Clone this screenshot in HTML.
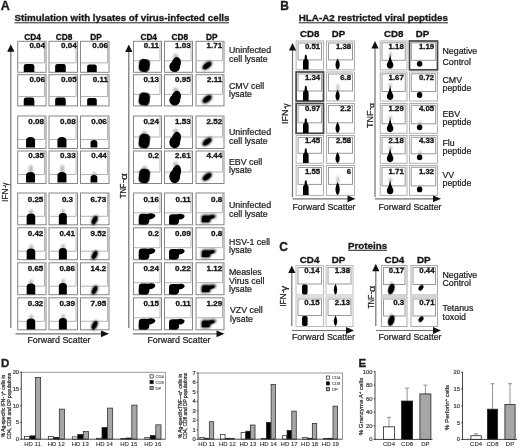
<!DOCTYPE html>
<html><head><meta charset="utf-8"><title>Figure</title>
<style>
html,body{margin:0;padding:0;background:#fff;}
body{width:520px;height:448px;overflow:hidden;}
svg{display:block;font-family:"Liberation Sans", Arial, sans-serif;}
text{stroke:#222;stroke-width:0.22px;paint-order:stroke;}
text[font-weight=bold]{stroke-width:0.32px;stroke:#111;}
text.s{stroke-width:0.08px;}
</style></head><body>
<svg width="520" height="448" viewBox="0 0 520 448">
<defs>
<filter id="b1" x="-30%" y="-30%" width="160%" height="160%"><feGaussianBlur stdDeviation="0.45"/></filter>
<filter id="b2" x="-50%" y="-50%" width="200%" height="200%"><feGaussianBlur stdDeviation="0.9"/></filter>
</defs>
<rect x="0" y="0" width="520" height="448" fill="#fff"/>
<text x="0.8" y="10.3" font-size="12.5" font-weight="bold" text-anchor="start" fill="#1a1a1a" >A</text>
<text x="14.5" y="20.5" font-size="9.8" font-weight="bold" text-anchor="start" fill="#1a1a1a" id="tA">Stimulation with lysates of virus-infected cells</text>
<line x1="14.5" y1="22.8" x2="229" y2="22.8" stroke="#222" stroke-width="1"/>
<text x="32.5" y="40" font-size="8.3" font-weight="bold" text-anchor="middle" fill="#111" >CD4</text>
<text x="64" y="40" font-size="8.3" font-weight="bold" text-anchor="middle" fill="#111" >CD8</text>
<text x="96" y="40" font-size="8.3" font-weight="bold" text-anchor="middle" fill="#111" >DP</text>
<text x="148.7" y="40" font-size="8.3" font-weight="bold" text-anchor="middle" fill="#111" >CD4</text>
<text x="179.8" y="40" font-size="8.3" font-weight="bold" text-anchor="middle" fill="#111" >CD8</text>
<text x="211.8" y="40" font-size="8.3" font-weight="bold" text-anchor="middle" fill="#111" >DP</text>
<rect x="17.7" y="41.3" width="28.3" height="31.0" fill="#fff" stroke="#868686" stroke-width="1" />
<path d="M18.2,62.9 L44.5,62.9 L44.5,41.8" fill="none" stroke="#b4b4b4" stroke-width="1"/>
<text x="45.0" y="48.3" font-size="8.0" font-weight="bold" text-anchor="end" fill="#111" >0.04</text>
<path d="M23.75,72.0 L23.75,66.332 Q23.75,64.0 26.082,64.0 L32.018,64.0 Q34.35,64.0 34.35,66.332 L34.35,72.0 Z" fill="#000" opacity="1.0" filter="url(#b1)"/>
<rect x="49.0" y="41.3" width="28.5" height="31.0" fill="#fff" stroke="#868686" stroke-width="1" />
<path d="M49.5,62.9 L76.0,62.9 L76.0,41.8" fill="none" stroke="#b4b4b4" stroke-width="1"/>
<text x="76.7" y="48.3" font-size="8.0" font-weight="bold" text-anchor="end" fill="#111" >0.04</text>
<path d="M55.15,72.0 L55.15,66.332 Q55.15,64.0 57.482,64.0 L63.418,64.0 Q65.75,64.0 65.75,66.332 L65.75,72.0 Z" fill="#000" opacity="1.0" filter="url(#b1)"/>
<rect x="80.5" y="41.3" width="28.5" height="31.0" fill="#fff" stroke="#868686" stroke-width="1" />
<path d="M81,62.9 L107.5,62.9 L107.5,41.8" fill="none" stroke="#b4b4b4" stroke-width="1"/>
<text x="107.9" y="48.3" font-size="8.0" font-weight="bold" text-anchor="end" fill="#111" >0.06</text>
<path d="M87.15,72.0 L87.15,66.512 Q87.15,64.4 89.262,64.4 L94.638,64.4 Q96.75,64.4 96.75,66.512 L96.75,72.0 Z" fill="#000" opacity="1.0" filter="url(#b1)"/>
<rect x="133.5" y="41.3" width="28" height="31.0" fill="#fff" stroke="#868686" stroke-width="1" />
<path d="M134,60.8 L160.0,60.8 L160.0,41.8" fill="none" stroke="#b4b4b4" stroke-width="1"/>
<text x="159" y="48.3" font-size="8.0" font-weight="bold" text-anchor="end" fill="#111" >0.11</text>
<rect x="138.8" y="59.0" width="11" height="13" rx="4.18" ry="4.18" transform="rotate(7 144.3 65.5)" fill="#000" opacity="1.0" filter="url(#b1)"/>
<rect x="164.5" y="41.3" width="28" height="31.0" fill="#fff" stroke="#868686" stroke-width="1" />
<path d="M165,60.8 L191.0,60.8 L191.0,41.8" fill="none" stroke="#b4b4b4" stroke-width="1"/>
<text x="190.7" y="48.3" font-size="8.0" font-weight="bold" text-anchor="end" fill="#111" >1.03</text>
<ellipse cx="175.60000000000002" cy="56.5" rx="2.53" ry="2.5" fill="#777" opacity="0.55" filter="url(#b2)"/>
<g filter="url(#b1)" opacity="1.0"><ellipse cx="174.72500000000002" cy="66.6" rx="5.404999999999999" ry="5.3999999999999995" fill="#000"/><ellipse cx="176.22" cy="63.6" rx="4.6000000000000005" ry="6.6" transform="rotate(14 176.22 63.6)" fill="#000"/></g>
<rect x="196.0" y="41.3" width="28.0" height="31.0" fill="#fff" stroke="#868686" stroke-width="1" />
<path d="M196.5,60.8 L222.5,60.8 L222.5,41.8" fill="none" stroke="#b4b4b4" stroke-width="1"/>
<text x="222.2" y="48.3" font-size="8.0" font-weight="bold" text-anchor="end" fill="#111" >1.71</text>
<g transform="rotate(-38 207.1 65.5)"><ellipse cx="207.1" cy="65.5" rx="6.0" ry="3.3" fill="#222" opacity="0.85" filter="url(#b2)"/><ellipse cx="207.1" cy="65.5" rx="4.800000000000001" ry="2.508" fill="#000" filter="url(#b1)"/></g>
<rect x="17.7" y="74.7" width="28.3" height="31.200000000000003" fill="#fff" stroke="#868686" stroke-width="1" />
<path d="M18.2,96.5 L44.5,96.5 L44.5,75.2" fill="none" stroke="#b4b4b4" stroke-width="1"/>
<text x="45.0" y="81.7" font-size="8.0" font-weight="bold" text-anchor="end" fill="#111" >0.06</text>
<path d="M23.75,105.60000000000001 L23.75,99.932 Q23.75,97.60000000000001 26.082,97.60000000000001 L32.018,97.60000000000001 Q34.35,97.60000000000001 34.35,99.932 L34.35,105.60000000000001 Z" fill="#000" opacity="1.0" filter="url(#b1)"/>
<rect x="49.0" y="74.7" width="28.5" height="31.200000000000003" fill="#fff" stroke="#868686" stroke-width="1" />
<path d="M49.5,96.5 L76.0,96.5 L76.0,75.2" fill="none" stroke="#b4b4b4" stroke-width="1"/>
<text x="76.7" y="81.7" font-size="8.0" font-weight="bold" text-anchor="end" fill="#111" >0.05</text>
<path d="M55.15,105.60000000000001 L55.15,99.932 Q55.15,97.60000000000001 57.482,97.60000000000001 L63.418,97.60000000000001 Q65.75,97.60000000000001 65.75,99.932 L65.75,105.60000000000001 Z" fill="#000" opacity="1.0" filter="url(#b1)"/>
<rect x="80.5" y="74.7" width="28.5" height="31.200000000000003" fill="#fff" stroke="#868686" stroke-width="1" />
<path d="M81,96.5 L107.5,96.5 L107.5,75.2" fill="none" stroke="#b4b4b4" stroke-width="1"/>
<text x="107.9" y="81.7" font-size="8.0" font-weight="bold" text-anchor="end" fill="#111" >0.11</text>
<path d="M87.15,105.60000000000001 L87.15,100.11200000000001 Q87.15,98.00000000000001 89.262,98.00000000000001 L94.638,98.00000000000001 Q96.75,98.00000000000001 96.75,100.11200000000001 L96.75,105.60000000000001 Z" fill="#000" opacity="1.0" filter="url(#b1)"/>
<rect x="133.5" y="74.7" width="28" height="31.200000000000003" fill="#fff" stroke="#868686" stroke-width="1" />
<path d="M134,94.4 L160.0,94.4 L160.0,75.2" fill="none" stroke="#b4b4b4" stroke-width="1"/>
<text x="159" y="81.7" font-size="8.0" font-weight="bold" text-anchor="end" fill="#111" >0.13</text>
<rect x="138.8" y="92.60000000000001" width="11" height="13" rx="4.18" ry="4.18" transform="rotate(7 144.3 99.10000000000001)" fill="#000" opacity="1.0" filter="url(#b1)"/>
<rect x="164.5" y="74.7" width="28" height="31.200000000000003" fill="#fff" stroke="#868686" stroke-width="1" />
<path d="M165,94.4 L191.0,94.4 L191.0,75.2" fill="none" stroke="#b4b4b4" stroke-width="1"/>
<text x="190.7" y="81.7" font-size="8.0" font-weight="bold" text-anchor="end" fill="#111" >0.95</text>
<ellipse cx="175.60000000000002" cy="90.10000000000001" rx="2.53" ry="2.5" fill="#777" opacity="0.55" filter="url(#b2)"/>
<g filter="url(#b1)" opacity="1.0"><ellipse cx="174.72500000000002" cy="100.2" rx="5.404999999999999" ry="5.3999999999999995" fill="#000"/><ellipse cx="176.22" cy="97.2" rx="4.6000000000000005" ry="6.6" transform="rotate(14 176.22 97.2)" fill="#000"/></g>
<rect x="196.0" y="74.7" width="28.0" height="31.200000000000003" fill="#fff" stroke="#868686" stroke-width="1" />
<path d="M196.5,94.4 L222.5,94.4 L222.5,75.2" fill="none" stroke="#b4b4b4" stroke-width="1"/>
<text x="222.2" y="81.7" font-size="8.0" font-weight="bold" text-anchor="end" fill="#111" >2.11</text>
<g transform="rotate(-38 207.1 99.10000000000001)"><ellipse cx="207.1" cy="99.10000000000001" rx="6.0" ry="3.3" fill="#222" opacity="0.85" filter="url(#b2)"/><ellipse cx="207.1" cy="99.10000000000001" rx="4.800000000000001" ry="2.508" fill="#000" filter="url(#b1)"/></g>
<rect x="17.7" y="116.0" width="28.3" height="32.5" fill="#fff" stroke="#868686" stroke-width="1" />
<path d="M18.2,139.5 L44.5,139.5 L44.5,116.5" fill="none" stroke="#b4b4b4" stroke-width="1"/>
<text x="43.9" y="123.5" font-size="8.0" font-weight="bold" text-anchor="end" fill="#111" >0.08</text>
<path d="M26.05,147.5 L26.05,140.6 Q26.05,137.0 30.55,137.0 Q35.05,137.0 35.05,140.6 L35.05,147.5 Z" fill="#000" opacity="1.0" filter="url(#b1)"/>
<rect x="49.0" y="116.0" width="28.5" height="32.5" fill="#fff" stroke="#868686" stroke-width="1" />
<path d="M49.5,139.5 L76.0,139.5 L76.0,116.5" fill="none" stroke="#b4b4b4" stroke-width="1"/>
<text x="75.6" y="123.5" font-size="8.0" font-weight="bold" text-anchor="end" fill="#111" >0.08</text>
<path d="M57.449999999999996,147.5 L57.449999999999996,140.6 Q57.449999999999996,137.0 61.949999999999996,137.0 Q66.44999999999999,137.0 66.44999999999999,140.6 L66.44999999999999,147.5 Z" fill="#000" opacity="1.0" filter="url(#b1)"/>
<rect x="80.5" y="116.0" width="28.5" height="32.5" fill="#fff" stroke="#868686" stroke-width="1" />
<path d="M81,139.5 L107.5,139.5 L107.5,116.5" fill="none" stroke="#b4b4b4" stroke-width="1"/>
<text x="106.8" y="123.5" font-size="8.0" font-weight="bold" text-anchor="end" fill="#111" >0.06</text>
<path d="M90.55,147.5 L90.55,142.72 Q90.55,140.0 93.95,140.0 Q97.35000000000001,140.0 97.35000000000001,142.72 L97.35000000000001,147.5 Z" fill="#000" opacity="1.0" filter="url(#b1)"/>
<rect x="133.5" y="116.0" width="28" height="32.5" fill="#fff" stroke="#868686" stroke-width="1" />
<path d="M134,137.0 L160.0,137.0 L160.0,116.5" fill="none" stroke="#b4b4b4" stroke-width="1"/>
<text x="159" y="123.5" font-size="8.0" font-weight="bold" text-anchor="end" fill="#111" >0.24</text>
<ellipse cx="144.60000000000002" cy="133.2" rx="2.42" ry="2.5" fill="#777" opacity="0.55" filter="url(#b2)"/>
<rect x="138.8" y="133.7" width="11" height="14.5" rx="4.18" ry="4.18" transform="rotate(7 144.3 140.95)" fill="#000" opacity="1.0" filter="url(#b1)"/>
<rect x="164.5" y="116.0" width="28" height="32.5" fill="#fff" stroke="#868686" stroke-width="1" />
<path d="M165,137.0 L191.0,137.0 L191.0,116.5" fill="none" stroke="#b4b4b4" stroke-width="1"/>
<text x="190.7" y="123.5" font-size="8.0" font-weight="bold" text-anchor="end" fill="#111" >1.53</text>
<ellipse cx="175.60000000000002" cy="131.2" rx="2.53" ry="2.5" fill="#777" opacity="0.55" filter="url(#b2)"/>
<g filter="url(#b1)" opacity="1.0"><ellipse cx="174.72500000000002" cy="142.26" rx="5.404999999999999" ry="5.9399999999999995" fill="#000"/><ellipse cx="176.22" cy="138.95999999999998" rx="4.6000000000000005" ry="7.26" transform="rotate(14 176.22 138.95999999999998)" fill="#000"/></g>
<rect x="196.0" y="116.0" width="28.0" height="32.5" fill="#fff" stroke="#868686" stroke-width="1" />
<path d="M196.5,137.0 L222.5,137.0 L222.5,116.5" fill="none" stroke="#b4b4b4" stroke-width="1"/>
<text x="222.2" y="123.5" font-size="8.0" font-weight="bold" text-anchor="end" fill="#111" >2.52</text>
<g transform="rotate(-38 207.1 141.7)"><ellipse cx="207.1" cy="141.7" rx="6.0" ry="3.3" fill="#222" opacity="0.85" filter="url(#b2)"/><ellipse cx="207.1" cy="141.7" rx="4.800000000000001" ry="2.508" fill="#000" filter="url(#b1)"/></g>
<rect x="17.7" y="151.0" width="28.3" height="32.5" fill="#fff" stroke="#868686" stroke-width="1" />
<path d="M18.2,174.5 L44.5,174.5 L44.5,151.5" fill="none" stroke="#b4b4b4" stroke-width="1"/>
<text x="43.9" y="158.1" font-size="8.0" font-weight="bold" text-anchor="end" fill="#111" >0.35</text>
<ellipse cx="30.85" cy="169.5" rx="1.98" ry="4.5" fill="#777" opacity="0.55" filter="url(#b2)"/>
<path d="M26.05,182.5 L26.05,175.6 Q26.05,172.0 30.55,172.0 Q35.05,172.0 35.05,175.6 L35.05,182.5 Z" fill="#000" opacity="1.0" filter="url(#b1)"/>
<rect x="49.0" y="151.0" width="28.5" height="32.5" fill="#fff" stroke="#868686" stroke-width="1" />
<path d="M49.5,174.5 L76.0,174.5 L76.0,151.5" fill="none" stroke="#b4b4b4" stroke-width="1"/>
<text x="75.6" y="158.1" font-size="8.0" font-weight="bold" text-anchor="end" fill="#111" >0.33</text>
<ellipse cx="62.24999999999999" cy="169.5" rx="1.98" ry="4.5" fill="#777" opacity="0.55" filter="url(#b2)"/>
<path d="M57.449999999999996,182.5 L57.449999999999996,175.6 Q57.449999999999996,172.0 61.949999999999996,172.0 Q66.44999999999999,172.0 66.44999999999999,175.6 L66.44999999999999,182.5 Z" fill="#000" opacity="1.0" filter="url(#b1)"/>
<rect x="80.5" y="151.0" width="28.5" height="32.5" fill="#fff" stroke="#868686" stroke-width="1" />
<path d="M81,174.5 L107.5,174.5 L107.5,151.5" fill="none" stroke="#b4b4b4" stroke-width="1"/>
<text x="106.8" y="158.1" font-size="8.0" font-weight="bold" text-anchor="end" fill="#111" >0.44</text>
<ellipse cx="94.25" cy="174.25" rx="1.496" ry="2.75" fill="#777" opacity="0.55" filter="url(#b2)"/>
<path d="M90.55,182.5 L90.55,177.72 Q90.55,175.0 93.95,175.0 Q97.35000000000001,175.0 97.35000000000001,177.72 L97.35000000000001,182.5 Z" fill="#000" opacity="1.0" filter="url(#b1)"/>
<rect x="133.5" y="151.0" width="28" height="32.5" fill="#fff" stroke="#868686" stroke-width="1" />
<path d="M134,172.0 L160.0,172.0 L160.0,151.5" fill="none" stroke="#b4b4b4" stroke-width="1"/>
<text x="159" y="158.1" font-size="8.0" font-weight="bold" text-anchor="end" fill="#111" >0.2</text>
<ellipse cx="144.60000000000002" cy="168.2" rx="2.42" ry="2.5" fill="#777" opacity="0.55" filter="url(#b2)"/>
<rect x="138.8" y="168.7" width="11" height="14.5" rx="4.18" ry="4.18" transform="rotate(7 144.3 175.95)" fill="#000" opacity="1.0" filter="url(#b1)"/>
<rect x="164.5" y="151.0" width="28" height="32.5" fill="#fff" stroke="#868686" stroke-width="1" />
<path d="M165,172.0 L191.0,172.0 L191.0,151.5" fill="none" stroke="#b4b4b4" stroke-width="1"/>
<text x="190.7" y="158.1" font-size="8.0" font-weight="bold" text-anchor="end" fill="#111" >2.61</text>
<ellipse cx="175.60000000000002" cy="164.2" rx="2.53" ry="2.5" fill="#777" opacity="0.55" filter="url(#b2)"/>
<g filter="url(#b1)" opacity="1.0"><ellipse cx="174.72500000000002" cy="176.54" rx="5.404999999999999" ry="6.66" fill="#000"/><ellipse cx="176.22" cy="172.83999999999997" rx="4.6000000000000005" ry="8.14" transform="rotate(14 176.22 172.83999999999997)" fill="#000"/></g>
<rect x="196.0" y="151.0" width="28.0" height="32.5" fill="#fff" stroke="#868686" stroke-width="1" />
<path d="M196.5,172.0 L222.5,172.0 L222.5,151.5" fill="none" stroke="#b4b4b4" stroke-width="1"/>
<text x="222.2" y="158.1" font-size="8.0" font-weight="bold" text-anchor="end" fill="#111" >4.44</text>
<g transform="rotate(-38 207.1 176.7)"><ellipse cx="207.1" cy="176.7" rx="6.0" ry="3.3" fill="#222" opacity="0.85" filter="url(#b2)"/><ellipse cx="207.1" cy="176.7" rx="4.800000000000001" ry="2.508" fill="#000" filter="url(#b1)"/></g>
<rect x="17.7" y="193.0" width="28.3" height="31.80000000000001" fill="#fff" stroke="#868686" stroke-width="1" />
<path d="M18.2,216.3 L44.5,216.3 L44.5,193.5" fill="none" stroke="#b4b4b4" stroke-width="1"/>
<text x="43.3" y="201.7" font-size="8.0" font-weight="bold" text-anchor="end" fill="#111" >0.25</text>
<ellipse cx="31.250000000000004" cy="212.5" rx="1.892" ry="3.0" fill="#777" opacity="0.55" filter="url(#b2)"/>
<path d="M26.650000000000002,224.5 L26.650000000000002,216.94 Q26.650000000000002,213.5 30.950000000000003,213.5 Q35.25,213.5 35.25,216.94 L35.25,224.5 Z" fill="#000" opacity="1.0" filter="url(#b1)"/>
<rect x="49.0" y="193.0" width="28.5" height="31.80000000000001" fill="#fff" stroke="#868686" stroke-width="1" />
<path d="M49.5,216.3 L76.0,216.3 L76.0,193.5" fill="none" stroke="#b4b4b4" stroke-width="1"/>
<text x="73.0" y="201.7" font-size="8.0" font-weight="bold" text-anchor="end" fill="#111" >0.3</text>
<ellipse cx="63.14999999999999" cy="212.0" rx="1.76" ry="3.0" fill="#777" opacity="0.55" filter="url(#b2)"/>
<path d="M58.849999999999994,224.5 L58.849999999999994,216.2 Q58.849999999999994,213.0 62.849999999999994,213.0 Q66.85,213.0 66.85,216.2 L66.85,224.5 Z" fill="#000" opacity="1.0" filter="url(#b1)"/>
<rect x="80.5" y="193.0" width="28.5" height="31.80000000000001" fill="#fff" stroke="#868686" stroke-width="1" />
<path d="M81,216.3 L107.5,216.3 L107.5,193.5" fill="none" stroke="#b4b4b4" stroke-width="1"/>
<text x="106.2" y="201.7" font-size="8.0" font-weight="bold" text-anchor="end" fill="#111" >6.73</text>
<g transform="rotate(-64 94.55 220.20000000000002)"><ellipse cx="94.55" cy="220.20000000000002" rx="5.25" ry="2.9" fill="#222" opacity="0.85" filter="url(#b2)"/><ellipse cx="94.55" cy="220.20000000000002" rx="4.2" ry="2.2039999999999997" fill="#000" filter="url(#b1)"/></g>
<rect x="133.5" y="193.0" width="28" height="31.80000000000001" fill="#fff" stroke="#868686" stroke-width="1" />
<path d="M134,212.8 L160.0,212.8 L160.0,193.5" fill="none" stroke="#b4b4b4" stroke-width="1"/>
<text x="159" y="201.7" font-size="8.0" font-weight="bold" text-anchor="end" fill="#111" >0.16</text>
<g filter="url(#b1)" opacity="1.0"><rect x="138.75" y="213.69" width="10.56" height="10.809999999999999" rx="3.4499999999999997" fill="#000"/><ellipse cx="149.64" cy="216.45" rx="5.7749999999999995" ry="2.99" transform="rotate(-10 149.64 216.45)" fill="#000"/><rect x="138.75" y="219.9" width="8.25" height="4.6000000000000005" fill="#000"/></g>
<rect x="164.5" y="193.0" width="28" height="31.80000000000001" fill="#fff" stroke="#868686" stroke-width="1" />
<path d="M165,212.8 L191.0,212.8 L191.0,193.5" fill="none" stroke="#b4b4b4" stroke-width="1"/>
<text x="190.7" y="201.7" font-size="8.0" font-weight="bold" text-anchor="end" fill="#111" >0.11</text>
<g filter="url(#b1)" opacity="1.0"><rect x="169.05" y="214.16" width="9.92" height="10.34" rx="3.3" fill="#000"/><ellipse cx="179.28" cy="216.8" rx="5.425" ry="2.8600000000000003" transform="rotate(-10 179.28 216.8)" fill="#000"/><rect x="169.05" y="220.1" width="7.75" height="4.4" fill="#000"/></g>
<rect x="196.0" y="193.0" width="28.0" height="31.80000000000001" fill="#fff" stroke="#868686" stroke-width="1" />
<path d="M196.5,212.8 L222.5,212.8 L222.5,193.5" fill="none" stroke="#b4b4b4" stroke-width="1"/>
<text x="222.2" y="201.7" font-size="8.0" font-weight="bold" text-anchor="end" fill="#111" >0.8</text>
<g filter="url(#b2)" opacity="0.85"><rect x="201.2" y="214.71" width="9.6" height="7.989999999999999" rx="2.55" fill="#000"/><ellipse cx="211.1" cy="216.75000000000003" rx="5.25" ry="2.21" transform="rotate(-10 211.1 216.75000000000003)" fill="#000"/><rect x="201.2" y="219.3" width="7.5" height="3.4000000000000004" fill="#000"/></g>
<g filter="url(#b1)" opacity="1.0"><rect x="202.05" y="215.708" width="8.0" height="6.3919999999999995" rx="2.04" fill="#000"/><ellipse cx="210.3" cy="217.34" rx="4.375" ry="1.768" transform="rotate(-10 210.3 217.34)" fill="#000"/><rect x="202.05" y="219.38000000000002" width="6.25" height="2.72" fill="#000"/></g>
<rect x="17.7" y="227.8" width="28.3" height="31.899999999999977" fill="#fff" stroke="#868686" stroke-width="1" />
<path d="M18.2,251.2 L44.5,251.2 L44.5,228.3" fill="none" stroke="#b4b4b4" stroke-width="1"/>
<text x="43.3" y="235.8" font-size="8.0" font-weight="bold" text-anchor="end" fill="#111" >0.42</text>
<ellipse cx="31.250000000000004" cy="247.39999999999998" rx="1.892" ry="3.0" fill="#777" opacity="0.55" filter="url(#b2)"/>
<path d="M26.650000000000002,259.4 L26.650000000000002,251.83999999999997 Q26.650000000000002,248.39999999999998 30.950000000000003,248.39999999999998 Q35.25,248.39999999999998 35.25,251.83999999999997 L35.25,259.4 Z" fill="#000" opacity="1.0" filter="url(#b1)"/>
<rect x="49.0" y="227.8" width="28.5" height="31.899999999999977" fill="#fff" stroke="#868686" stroke-width="1" />
<path d="M49.5,251.2 L76.0,251.2 L76.0,228.3" fill="none" stroke="#b4b4b4" stroke-width="1"/>
<text x="75.0" y="235.8" font-size="8.0" font-weight="bold" text-anchor="end" fill="#111" >0.41</text>
<ellipse cx="63.14999999999999" cy="246.89999999999998" rx="1.76" ry="3.0" fill="#777" opacity="0.55" filter="url(#b2)"/>
<path d="M58.849999999999994,259.4 L58.849999999999994,251.09999999999997 Q58.849999999999994,247.89999999999998 62.849999999999994,247.89999999999998 Q66.85,247.89999999999998 66.85,251.09999999999997 L66.85,259.4 Z" fill="#000" opacity="1.0" filter="url(#b1)"/>
<rect x="80.5" y="227.8" width="28.5" height="31.899999999999977" fill="#fff" stroke="#868686" stroke-width="1" />
<path d="M81,251.2 L107.5,251.2 L107.5,228.3" fill="none" stroke="#b4b4b4" stroke-width="1"/>
<text x="106.2" y="235.8" font-size="8.0" font-weight="bold" text-anchor="end" fill="#111" >9.52</text>
<g transform="rotate(-64 94.55 255.1)"><ellipse cx="94.55" cy="255.1" rx="5.25" ry="2.9" fill="#222" opacity="0.85" filter="url(#b2)"/><ellipse cx="94.55" cy="255.1" rx="4.2" ry="2.2039999999999997" fill="#000" filter="url(#b1)"/></g>
<rect x="133.5" y="227.8" width="28" height="31.899999999999977" fill="#fff" stroke="#868686" stroke-width="1" />
<path d="M134,247.7 L160.0,247.7 L160.0,228.3" fill="none" stroke="#b4b4b4" stroke-width="1"/>
<text x="159" y="235.8" font-size="8.0" font-weight="bold" text-anchor="end" fill="#111" >0.2</text>
<g filter="url(#b1)" opacity="1.0"><rect x="138.75" y="248.58999999999997" width="10.56" height="10.809999999999999" rx="3.4499999999999997" fill="#000"/><ellipse cx="149.64" cy="251.34999999999997" rx="5.7749999999999995" ry="2.99" transform="rotate(-10 149.64 251.34999999999997)" fill="#000"/><rect x="138.75" y="254.79999999999998" width="8.25" height="4.6000000000000005" fill="#000"/></g>
<rect x="164.5" y="227.8" width="28" height="31.899999999999977" fill="#fff" stroke="#868686" stroke-width="1" />
<path d="M165,247.7 L191.0,247.7 L191.0,228.3" fill="none" stroke="#b4b4b4" stroke-width="1"/>
<text x="190.7" y="235.8" font-size="8.0" font-weight="bold" text-anchor="end" fill="#111" >0.09</text>
<g filter="url(#b1)" opacity="1.0"><rect x="169.05" y="249.05999999999997" width="9.92" height="10.34" rx="3.3" fill="#000"/><ellipse cx="179.28" cy="251.7" rx="5.425" ry="2.8600000000000003" transform="rotate(-10 179.28 251.7)" fill="#000"/><rect x="169.05" y="254.99999999999997" width="7.75" height="4.4" fill="#000"/></g>
<rect x="196.0" y="227.8" width="28.0" height="31.899999999999977" fill="#fff" stroke="#868686" stroke-width="1" />
<path d="M196.5,247.7 L222.5,247.7 L222.5,228.3" fill="none" stroke="#b4b4b4" stroke-width="1"/>
<text x="222.2" y="235.8" font-size="8.0" font-weight="bold" text-anchor="end" fill="#111" >0.8</text>
<g filter="url(#b2)" opacity="0.85"><rect x="201.2" y="249.60999999999996" width="9.6" height="7.989999999999999" rx="2.55" fill="#000"/><ellipse cx="211.1" cy="251.64999999999998" rx="5.25" ry="2.21" transform="rotate(-10 211.1 251.64999999999998)" fill="#000"/><rect x="201.2" y="254.19999999999996" width="7.5" height="3.4000000000000004" fill="#000"/></g>
<g filter="url(#b1)" opacity="1.0"><rect x="202.05" y="250.60799999999998" width="8.0" height="6.3919999999999995" rx="2.04" fill="#000"/><ellipse cx="210.3" cy="252.23999999999998" rx="4.375" ry="1.768" transform="rotate(-10 210.3 252.23999999999998)" fill="#000"/><rect x="202.05" y="254.28" width="6.25" height="2.72" fill="#000"/></g>
<rect x="17.7" y="262.8" width="28.3" height="31.899999999999977" fill="#fff" stroke="#868686" stroke-width="1" />
<path d="M18.2,286.2 L44.5,286.2 L44.5,263.3" fill="none" stroke="#b4b4b4" stroke-width="1"/>
<text x="43.3" y="270.90000000000003" font-size="8.0" font-weight="bold" text-anchor="end" fill="#111" >0.65</text>
<ellipse cx="31.250000000000004" cy="282.4" rx="1.892" ry="3.0" fill="#777" opacity="0.55" filter="url(#b2)"/>
<path d="M26.650000000000002,294.4 L26.650000000000002,286.84 Q26.650000000000002,283.4 30.950000000000003,283.4 Q35.25,283.4 35.25,286.84 L35.25,294.4 Z" fill="#000" opacity="1.0" filter="url(#b1)"/>
<rect x="49.0" y="262.8" width="28.5" height="31.899999999999977" fill="#fff" stroke="#868686" stroke-width="1" />
<path d="M49.5,286.2 L76.0,286.2 L76.0,263.3" fill="none" stroke="#b4b4b4" stroke-width="1"/>
<text x="75.0" y="270.90000000000003" font-size="8.0" font-weight="bold" text-anchor="end" fill="#111" >0.86</text>
<ellipse cx="63.14999999999999" cy="281.9" rx="1.76" ry="3.0" fill="#777" opacity="0.55" filter="url(#b2)"/>
<path d="M58.849999999999994,294.4 L58.849999999999994,286.09999999999997 Q58.849999999999994,282.9 62.849999999999994,282.9 Q66.85,282.9 66.85,286.09999999999997 L66.85,294.4 Z" fill="#000" opacity="1.0" filter="url(#b1)"/>
<rect x="80.5" y="262.8" width="28.5" height="31.899999999999977" fill="#fff" stroke="#868686" stroke-width="1" />
<path d="M81,286.2 L107.5,286.2 L107.5,263.3" fill="none" stroke="#b4b4b4" stroke-width="1"/>
<text x="106.2" y="270.90000000000003" font-size="8.0" font-weight="bold" text-anchor="end" fill="#111" >14.2</text>
<g transform="rotate(-64 94.55 290.1)"><ellipse cx="94.55" cy="290.1" rx="5.25" ry="2.9" fill="#222" opacity="0.85" filter="url(#b2)"/><ellipse cx="94.55" cy="290.1" rx="4.2" ry="2.2039999999999997" fill="#000" filter="url(#b1)"/></g>
<rect x="133.5" y="262.8" width="28" height="31.899999999999977" fill="#fff" stroke="#868686" stroke-width="1" />
<path d="M134,282.7 L160.0,282.7 L160.0,263.3" fill="none" stroke="#b4b4b4" stroke-width="1"/>
<text x="159" y="270.90000000000003" font-size="8.0" font-weight="bold" text-anchor="end" fill="#111" >0.24</text>
<g filter="url(#b1)" opacity="1.0"><rect x="138.75" y="283.59" width="10.56" height="10.809999999999999" rx="3.4499999999999997" fill="#000"/><ellipse cx="149.64" cy="286.34999999999997" rx="5.7749999999999995" ry="2.99" transform="rotate(-10 149.64 286.34999999999997)" fill="#000"/><rect x="138.75" y="289.79999999999995" width="8.25" height="4.6000000000000005" fill="#000"/></g>
<rect x="164.5" y="262.8" width="28" height="31.899999999999977" fill="#fff" stroke="#868686" stroke-width="1" />
<path d="M165,282.7 L191.0,282.7 L191.0,263.3" fill="none" stroke="#b4b4b4" stroke-width="1"/>
<text x="190.7" y="270.90000000000003" font-size="8.0" font-weight="bold" text-anchor="end" fill="#111" >0.22</text>
<g filter="url(#b1)" opacity="1.0"><rect x="169.05" y="284.06" width="9.92" height="10.34" rx="3.3" fill="#000"/><ellipse cx="179.28" cy="286.7" rx="5.425" ry="2.8600000000000003" transform="rotate(-10 179.28 286.7)" fill="#000"/><rect x="169.05" y="290.0" width="7.75" height="4.4" fill="#000"/></g>
<rect x="196.0" y="262.8" width="28.0" height="31.899999999999977" fill="#fff" stroke="#868686" stroke-width="1" />
<path d="M196.5,282.7 L222.5,282.7 L222.5,263.3" fill="none" stroke="#b4b4b4" stroke-width="1"/>
<text x="222.2" y="270.90000000000003" font-size="8.0" font-weight="bold" text-anchor="end" fill="#111" >1.12</text>
<g filter="url(#b2)" opacity="0.85"><rect x="201.2" y="284.60999999999996" width="9.6" height="7.989999999999999" rx="2.55" fill="#000"/><ellipse cx="211.1" cy="286.65" rx="5.25" ry="2.21" transform="rotate(-10 211.1 286.65)" fill="#000"/><rect x="201.2" y="289.2" width="7.5" height="3.4000000000000004" fill="#000"/></g>
<g filter="url(#b1)" opacity="1.0"><rect x="202.05" y="285.608" width="8.0" height="6.3919999999999995" rx="2.04" fill="#000"/><ellipse cx="210.3" cy="287.24" rx="4.375" ry="1.768" transform="rotate(-10 210.3 287.24)" fill="#000"/><rect x="202.05" y="289.28" width="6.25" height="2.72" fill="#000"/></g>
<rect x="17.7" y="297.8" width="28.3" height="32.0" fill="#fff" stroke="#868686" stroke-width="1" />
<path d="M18.2,321.3 L44.5,321.3 L44.5,298.3" fill="none" stroke="#b4b4b4" stroke-width="1"/>
<text x="43.3" y="305.5" font-size="8.0" font-weight="bold" text-anchor="end" fill="#111" >0.32</text>
<ellipse cx="31.250000000000004" cy="317.5" rx="1.892" ry="3.0" fill="#777" opacity="0.55" filter="url(#b2)"/>
<path d="M26.650000000000002,329.5 L26.650000000000002,321.94 Q26.650000000000002,318.5 30.950000000000003,318.5 Q35.25,318.5 35.25,321.94 L35.25,329.5 Z" fill="#000" opacity="1.0" filter="url(#b1)"/>
<rect x="49.0" y="297.8" width="28.5" height="32.0" fill="#fff" stroke="#868686" stroke-width="1" />
<path d="M49.5,321.3 L76.0,321.3 L76.0,298.3" fill="none" stroke="#b4b4b4" stroke-width="1"/>
<text x="75.0" y="305.5" font-size="8.0" font-weight="bold" text-anchor="end" fill="#111" >0.39</text>
<ellipse cx="63.14999999999999" cy="317.0" rx="1.76" ry="3.0" fill="#777" opacity="0.55" filter="url(#b2)"/>
<path d="M58.849999999999994,329.5 L58.849999999999994,321.2 Q58.849999999999994,318.0 62.849999999999994,318.0 Q66.85,318.0 66.85,321.2 L66.85,329.5 Z" fill="#000" opacity="1.0" filter="url(#b1)"/>
<rect x="80.5" y="297.8" width="28.5" height="32.0" fill="#fff" stroke="#868686" stroke-width="1" />
<path d="M81,321.3 L107.5,321.3 L107.5,298.3" fill="none" stroke="#b4b4b4" stroke-width="1"/>
<text x="106.2" y="305.5" font-size="8.0" font-weight="bold" text-anchor="end" fill="#111" >7.95</text>
<g transform="rotate(-64 94.55 325.20000000000005)"><ellipse cx="94.55" cy="325.20000000000005" rx="5.25" ry="2.9" fill="#222" opacity="0.85" filter="url(#b2)"/><ellipse cx="94.55" cy="325.20000000000005" rx="4.2" ry="2.2039999999999997" fill="#000" filter="url(#b1)"/></g>
<rect x="133.5" y="297.8" width="28" height="32.0" fill="#fff" stroke="#868686" stroke-width="1" />
<path d="M134,317.8 L160.0,317.8 L160.0,298.3" fill="none" stroke="#b4b4b4" stroke-width="1"/>
<text x="159" y="305.5" font-size="8.0" font-weight="bold" text-anchor="end" fill="#111" >0.15</text>
<g filter="url(#b1)" opacity="1.0"><rect x="138.75" y="318.69" width="10.56" height="10.809999999999999" rx="3.4499999999999997" fill="#000"/><ellipse cx="149.64" cy="321.45" rx="5.7749999999999995" ry="2.99" transform="rotate(-10 149.64 321.45)" fill="#000"/><rect x="138.75" y="324.9" width="8.25" height="4.6000000000000005" fill="#000"/></g>
<rect x="164.5" y="297.8" width="28" height="32.0" fill="#fff" stroke="#868686" stroke-width="1" />
<path d="M165,317.8 L191.0,317.8 L191.0,298.3" fill="none" stroke="#b4b4b4" stroke-width="1"/>
<text x="190.7" y="305.5" font-size="8.0" font-weight="bold" text-anchor="end" fill="#111" >0.11</text>
<g filter="url(#b1)" opacity="1.0"><rect x="169.05" y="319.16" width="9.92" height="10.34" rx="3.3" fill="#000"/><ellipse cx="179.28" cy="321.8" rx="5.425" ry="2.8600000000000003" transform="rotate(-10 179.28 321.8)" fill="#000"/><rect x="169.05" y="325.1" width="7.75" height="4.4" fill="#000"/></g>
<rect x="196.0" y="297.8" width="28.0" height="32.0" fill="#fff" stroke="#868686" stroke-width="1" />
<path d="M196.5,317.8 L222.5,317.8 L222.5,298.3" fill="none" stroke="#b4b4b4" stroke-width="1"/>
<text x="222.2" y="305.5" font-size="8.0" font-weight="bold" text-anchor="end" fill="#111" >1.29</text>
<g filter="url(#b2)" opacity="0.85"><rect x="201.2" y="319.71" width="9.6" height="7.989999999999999" rx="2.55" fill="#000"/><ellipse cx="211.1" cy="321.75" rx="5.25" ry="2.21" transform="rotate(-10 211.1 321.75)" fill="#000"/><rect x="201.2" y="324.3" width="7.5" height="3.4000000000000004" fill="#000"/></g>
<g filter="url(#b1)" opacity="1.0"><rect x="202.05" y="320.708" width="8.0" height="6.3919999999999995" rx="2.04" fill="#000"/><ellipse cx="210.3" cy="322.34000000000003" rx="4.375" ry="1.768" transform="rotate(-10 210.3 322.34000000000003)" fill="#000"/><rect x="202.05" y="324.38" width="6.25" height="2.72" fill="#000"/></g>
<line x1="10.8" y1="50.7" x2="10.8" y2="328" stroke="#707070" stroke-width="1.2"/>
<polygon points="10.8,44.2 7.200000000000001,51.7 14.4,51.7" fill="#111"/>
<line x1="15.5" y1="333.8" x2="102" y2="333.8" stroke="#707070" stroke-width="1.2"/>
<polygon points="109,333.8 101,330.40000000000003 101,337.2" fill="#111"/>
<text x="59" y="342.6" font-size="8.9" font-weight="normal" text-anchor="middle" fill="#1a1a1a" >Forward Scatter</text>
<line x1="128.8" y1="51.0" x2="128.8" y2="328" stroke="#707070" stroke-width="1.2"/>
<polygon points="128.8,44.5 125.20000000000002,52.0 132.4,52.0" fill="#111"/>
<line x1="133" y1="333.8" x2="217.5" y2="333.8" stroke="#707070" stroke-width="1.2"/>
<polygon points="224.5,333.8 216.5,330.40000000000003 216.5,337.2" fill="#111"/>
<text x="179" y="342.6" font-size="8.9" font-weight="normal" text-anchor="middle" fill="#1a1a1a" >Forward Scatter</text>
<text transform="translate(8.4,201.9) rotate(-90) scale(0.904,1)" font-size="9.2" font-weight="normal" text-anchor="start" fill="#1a1a1a" >IFN</text>
<text transform="translate(8.4,188.2) rotate(-90) scale(0.783,1)" font-size="9.2" font-weight="normal" text-anchor="start" fill="#1a1a1a" >-</text>
<text transform="translate(8.0,186.2) rotate(-90) scale(0.847,1)" font-size="8.5" font-weight="normal" text-anchor="start" fill="#1a1a1a" >γ</text>
<text transform="translate(126.1,198.2) rotate(-90) scale(0.822,1)" font-size="9.2" font-weight="normal" text-anchor="start" fill="#1a1a1a" >TNF</text>
<text transform="translate(126.1,183.2) rotate(-90) scale(1.175,1)" font-size="9.2" font-weight="normal" text-anchor="start" fill="#1a1a1a" >-</text>
<text transform="translate(127.39999999999999,180.0) rotate(-90) scale(1.384,1)" font-size="8.5" font-weight="normal" text-anchor="start" fill="#1a1a1a" >α</text>
<text x="229" y="53.4" font-size="8.8" font-weight="normal" text-anchor="start" fill="#1a1a1a" >Uninfected</text>
<text x="229" y="62.199999999999996" font-size="8.8" font-weight="normal" text-anchor="start" fill="#1a1a1a" >cell lysate</text>
<text x="229" y="89.4" font-size="8.8" font-weight="normal" text-anchor="start" fill="#1a1a1a" >CMV cell</text>
<text x="229" y="97.4" font-size="8.8" font-weight="normal" text-anchor="start" fill="#1a1a1a" >lysate</text>
<text x="229" y="134.70000000000002" font-size="8.8" font-weight="normal" text-anchor="start" fill="#1a1a1a" >Uninfected</text>
<text x="229" y="143.70000000000002" font-size="8.8" font-weight="normal" text-anchor="start" fill="#1a1a1a" >cell lysate</text>
<text x="229" y="164.70000000000002" font-size="8.8" font-weight="normal" text-anchor="start" fill="#1a1a1a" >EBV cell</text>
<text x="229" y="173.4" font-size="8.8" font-weight="normal" text-anchor="start" fill="#1a1a1a" >lysate</text>
<text x="229" y="207.7" font-size="8.8" font-weight="normal" text-anchor="start" fill="#1a1a1a" >Uninfected</text>
<text x="229" y="216.89999999999998" font-size="8.8" font-weight="normal" text-anchor="start" fill="#1a1a1a" >cell lysate</text>
<text x="229" y="244.5" font-size="8.8" font-weight="normal" text-anchor="start" fill="#1a1a1a" >HSV-1 cell</text>
<text x="229" y="253.2" font-size="8.8" font-weight="normal" text-anchor="start" fill="#1a1a1a" >lysate</text>
<text x="229" y="275.2" font-size="8.8" font-weight="normal" text-anchor="start" fill="#1a1a1a" >Measles</text>
<text x="229" y="283.7" font-size="8.8" font-weight="normal" text-anchor="start" fill="#1a1a1a" >Virus cell</text>
<text x="229" y="292.0" font-size="8.8" font-weight="normal" text-anchor="start" fill="#1a1a1a" >lysate</text>
<text x="230" y="313.2" font-size="8.8" font-weight="normal" text-anchor="start" fill="#1a1a1a" >VZV cell</text>
<text x="230" y="321.7" font-size="8.8" font-weight="normal" text-anchor="start" fill="#1a1a1a" >lysate</text>
<text x="280.3" y="10" font-size="12" font-weight="bold" text-anchor="start" fill="#1a1a1a" >B</text>
<text x="298.8" y="20.5" font-size="9.8" font-weight="bold" text-anchor="start" fill="#1a1a1a" id="tB">HLA-A2 restricted viral peptides</text>
<line x1="298.8" y1="22.8" x2="448" y2="22.8" stroke="#222" stroke-width="1"/>
<text x="309.6" y="37.4" font-size="9.7" font-weight="bold" text-anchor="middle" fill="#111" >CD8</text>
<text x="338.5" y="37.4" font-size="9.7" font-weight="bold" text-anchor="middle" fill="#111" >DP</text>
<text x="393.8" y="37.4" font-size="9.7" font-weight="bold" text-anchor="middle" fill="#111" >CD8</text>
<text x="422.5" y="37.4" font-size="9.7" font-weight="bold" text-anchor="middle" fill="#111" >DP</text>
<rect x="296.1" y="41.0" width="27.399999999999977" height="28.799999999999997" fill="#fff" stroke="#b0b0b0" stroke-width="1" />
<rect x="298.1" y="43.0" width="23.399999999999977" height="16.9" fill="none" stroke="#999" stroke-width="1" />
<text x="320.1" y="48.9" font-size="7.8" font-weight="bold" text-anchor="end" fill="#111" >0.51</text>
<path d="M303.0,69.5 L303.0,61.7 Q303.0,59.9 304.568,59.0 L304.904,55.4 Q305.8,53.9 306.696,55.4 L307.03200000000004,59.0 Q308.6,59.9 308.6,61.7 L308.6,69.5 Z" fill="#000" opacity="1.0" filter="url(#b1)"/>
<rect x="326.5" y="41.0" width="28" height="28.799999999999997" fill="#fff" stroke="#b0b0b0" stroke-width="1" />
<rect x="328.5" y="43.0" width="24" height="16.9" fill="none" stroke="#999" stroke-width="1" />
<text x="351.1" y="48.9" font-size="7.8" font-weight="bold" text-anchor="end" fill="#111" >1.38</text>
<path d="M337.6,58.5 Q339.70000000000005,61.8 339.70000000000005,64.55 Q339.70000000000005,68.4 337.6,69.5 Q335.5,68.4 335.5,64.55 Q335.5,61.8 337.6,58.5 Z" fill="#000" opacity="1.0" filter="url(#b1)"/>
<rect x="380.2" y="41.0" width="26.80000000000001" height="28.799999999999997" fill="#fff" stroke="#b0b0b0" stroke-width="1" />
<rect x="382.0" y="42.8" width="23.20000000000001" height="17.5" fill="none" stroke="#999" stroke-width="1" />
<text x="403.8" y="48.8" font-size="7.8" font-weight="bold" text-anchor="end" fill="#111" >1.18</text>
<ellipse cx="390.4" cy="54.2" rx="1.452" ry="2.0" fill="#777" opacity="0.55" filter="url(#b2)"/>
<path d="M390.09999999999997,54.2 Q390.89199999999994,60.290000000000006 393.4,64.35000000000001 Q393.4,68.7 390.09999999999997,68.7 Q386.79999999999995,68.7 386.79999999999995,64.35000000000001 Q389.308,60.290000000000006 390.09999999999997,54.2 Z" fill="#000" opacity="1.0" filter="url(#b1)"/>
<rect x="409.5" y="41.0" width="28" height="28.799999999999997" fill="#fff" stroke="#444" stroke-width="1.7" />
<rect x="411.3" y="42.8" width="24.4" height="17.5" fill="none" stroke="#999" stroke-width="1" />
<text x="434.1" y="48.8" font-size="7.8" font-weight="bold" text-anchor="end" fill="#111" >1.19</text>
<ellipse cx="419.90000000000003" cy="61.400000000000006" rx="1.21" ry="1.5" fill="#777" opacity="0.55" filter="url(#b2)"/>
<ellipse cx="419.6" cy="63.800000000000004" rx="2.75" ry="2.9" fill="#000" opacity="1.0" filter="url(#b1)"/>
<rect x="296.1" y="72.0" width="27.399999999999977" height="29.0" fill="#fff" stroke="#444" stroke-width="1.7" />
<rect x="298.1" y="74.0" width="23.399999999999977" height="17.0" fill="none" stroke="#999" stroke-width="1" />
<text x="320.1" y="79.9" font-size="7.8" font-weight="bold" text-anchor="end" fill="#111" >1.34</text>
<path d="M303.0,100.7 L303.0,92.9 Q303.0,91.10000000000001 304.568,90.2 L304.904,86.60000000000001 Q305.8,85.10000000000001 306.696,86.60000000000001 L307.03200000000004,90.2 Q308.6,91.10000000000001 308.6,92.9 L308.6,100.7 Z" fill="#000" opacity="1.0" filter="url(#b1)"/>
<rect x="326.5" y="72.0" width="28" height="29.0" fill="#fff" stroke="#b0b0b0" stroke-width="1" />
<rect x="328.5" y="74.0" width="24" height="17.0" fill="none" stroke="#999" stroke-width="1" />
<text x="351.1" y="79.9" font-size="7.8" font-weight="bold" text-anchor="end" fill="#111" >6.8</text>
<ellipse cx="337.90000000000003" cy="87.7" rx="1.2" ry="4.0" fill="#777" opacity="0.55" filter="url(#b2)"/>
<path d="M337.6,89.7 Q339.70000000000005,93.0 339.70000000000005,95.75 Q339.70000000000005,99.60000000000001 337.6,100.7 Q335.5,99.60000000000001 335.5,95.75 Q335.5,93.0 337.6,89.7 Z" fill="#000" opacity="1.0" filter="url(#b1)"/>
<rect x="380.2" y="72.0" width="26.80000000000001" height="29.0" fill="#fff" stroke="#b0b0b0" stroke-width="1" />
<rect x="382.0" y="73.8" width="23.20000000000001" height="17.700000000000003" fill="none" stroke="#999" stroke-width="1" />
<text x="403.8" y="79.8" font-size="7.8" font-weight="bold" text-anchor="end" fill="#111" >1.67</text>
<ellipse cx="390.4" cy="85.4" rx="1.452" ry="2.0" fill="#777" opacity="0.55" filter="url(#b2)"/>
<path d="M390.09999999999997,85.4 Q390.89199999999994,91.49000000000001 393.4,95.55000000000001 Q393.4,99.9 390.09999999999997,99.9 Q386.79999999999995,99.9 386.79999999999995,95.55000000000001 Q389.308,91.49000000000001 390.09999999999997,85.4 Z" fill="#000" opacity="1.0" filter="url(#b1)"/>
<rect x="409.5" y="72.0" width="28" height="29.0" fill="#fff" stroke="#b0b0b0" stroke-width="1" />
<rect x="411.3" y="73.8" width="24.4" height="17.700000000000003" fill="none" stroke="#999" stroke-width="1" />
<text x="434.1" y="79.8" font-size="7.8" font-weight="bold" text-anchor="end" fill="#111" >0.72</text>
<ellipse cx="419.90000000000003" cy="92.60000000000001" rx="1.21" ry="1.5" fill="#777" opacity="0.55" filter="url(#b2)"/>
<ellipse cx="419.6" cy="95.0" rx="2.75" ry="2.9" fill="#000" opacity="1.0" filter="url(#b1)"/>
<rect x="296.1" y="103.5" width="27.399999999999977" height="29.80000000000001" fill="#fff" stroke="#444" stroke-width="1.7" />
<rect x="298.1" y="105.5" width="23.399999999999977" height="17.30000000000001" fill="none" stroke="#999" stroke-width="1" />
<text x="320.1" y="111.4" font-size="7.8" font-weight="bold" text-anchor="end" fill="#111" >0.97</text>
<path d="M303.0,133.0 L303.0,125.2 Q303.0,123.4 304.568,122.5 L304.904,118.9 Q305.8,117.4 306.696,118.9 L307.03200000000004,122.5 Q308.6,123.4 308.6,125.2 L308.6,133.0 Z" fill="#000" opacity="1.0" filter="url(#b1)"/>
<rect x="326.5" y="103.5" width="28" height="29.80000000000001" fill="#fff" stroke="#b0b0b0" stroke-width="1" />
<rect x="328.5" y="105.5" width="24" height="17.30000000000001" fill="none" stroke="#999" stroke-width="1" />
<text x="351.1" y="111.4" font-size="7.8" font-weight="bold" text-anchor="end" fill="#111" >2.2</text>
<path d="M337.6,122.0 Q339.70000000000005,125.3 339.70000000000005,128.05 Q339.70000000000005,131.9 337.6,133.0 Q335.5,131.9 335.5,128.05 Q335.5,125.3 337.6,122.0 Z" fill="#000" opacity="1.0" filter="url(#b1)"/>
<rect x="380.2" y="103.5" width="26.80000000000001" height="29.80000000000001" fill="#fff" stroke="#b0b0b0" stroke-width="1" />
<rect x="382.0" y="105.3" width="23.20000000000001" height="18.500000000000014" fill="none" stroke="#999" stroke-width="1" />
<text x="403.8" y="111.3" font-size="7.8" font-weight="bold" text-anchor="end" fill="#111" >1.29</text>
<ellipse cx="390.4" cy="117.70000000000002" rx="1.452" ry="2.0" fill="#777" opacity="0.55" filter="url(#b2)"/>
<path d="M390.09999999999997,117.70000000000002 Q390.89199999999994,123.79000000000002 393.4,127.85000000000002 Q393.4,132.20000000000002 390.09999999999997,132.20000000000002 Q386.79999999999995,132.20000000000002 386.79999999999995,127.85000000000002 Q389.308,123.79000000000002 390.09999999999997,117.70000000000002 Z" fill="#000" opacity="1.0" filter="url(#b1)"/>
<rect x="409.5" y="103.5" width="28" height="29.80000000000001" fill="#fff" stroke="#b0b0b0" stroke-width="1" />
<rect x="411.3" y="105.3" width="24.4" height="18.500000000000014" fill="none" stroke="#999" stroke-width="1" />
<text x="434.1" y="111.3" font-size="7.8" font-weight="bold" text-anchor="end" fill="#111" >4.05</text>
<ellipse cx="419.90000000000003" cy="123.40000000000002" rx="1.21" ry="3.0" fill="#777" opacity="0.55" filter="url(#b2)"/>
<ellipse cx="419.6" cy="127.30000000000001" rx="2.75" ry="2.9" fill="#000" opacity="1.0" filter="url(#b1)"/>
<rect x="296.1" y="135.5" width="27.399999999999977" height="27.80000000000001" fill="#fff" stroke="#b0b0b0" stroke-width="1" />
<rect x="298.1" y="137.5" width="23.399999999999977" height="15.800000000000011" fill="none" stroke="#999" stroke-width="1" />
<text x="320.1" y="143.4" font-size="7.8" font-weight="bold" text-anchor="end" fill="#111" >1.45</text>
<path d="M303.0,163.0 L303.0,155.2 Q303.0,153.4 304.568,152.5 L304.904,148.9 Q305.8,147.4 306.696,148.9 L307.03200000000004,152.5 Q308.6,153.4 308.6,155.2 L308.6,163.0 Z" fill="#000" opacity="1.0" filter="url(#b1)"/>
<rect x="326.5" y="135.5" width="28" height="27.80000000000001" fill="#fff" stroke="#b0b0b0" stroke-width="1" />
<rect x="328.5" y="137.5" width="24" height="15.800000000000011" fill="none" stroke="#999" stroke-width="1" />
<text x="351.1" y="143.4" font-size="7.8" font-weight="bold" text-anchor="end" fill="#111" >2.58</text>
<path d="M337.6,152.0 Q339.70000000000005,155.3 339.70000000000005,158.05 Q339.70000000000005,161.9 337.6,163.0 Q335.5,161.9 335.5,158.05 Q335.5,155.3 337.6,152.0 Z" fill="#000" opacity="1.0" filter="url(#b1)"/>
<rect x="380.2" y="135.5" width="26.80000000000001" height="27.80000000000001" fill="#fff" stroke="#b0b0b0" stroke-width="1" />
<rect x="382.0" y="137.3" width="23.20000000000001" height="16.5" fill="none" stroke="#999" stroke-width="1" />
<text x="403.8" y="143.3" font-size="7.8" font-weight="bold" text-anchor="end" fill="#111" >2.18</text>
<ellipse cx="390.4" cy="147.70000000000002" rx="1.452" ry="2.0" fill="#777" opacity="0.55" filter="url(#b2)"/>
<path d="M390.09999999999997,147.70000000000002 Q390.89199999999994,153.79000000000002 393.4,157.85000000000002 Q393.4,162.20000000000002 390.09999999999997,162.20000000000002 Q386.79999999999995,162.20000000000002 386.79999999999995,157.85000000000002 Q389.308,153.79000000000002 390.09999999999997,147.70000000000002 Z" fill="#000" opacity="1.0" filter="url(#b1)"/>
<rect x="409.5" y="135.5" width="28" height="27.80000000000001" fill="#fff" stroke="#b0b0b0" stroke-width="1" />
<rect x="411.3" y="137.3" width="24.4" height="16.5" fill="none" stroke="#999" stroke-width="1" />
<text x="434.1" y="143.3" font-size="7.8" font-weight="bold" text-anchor="end" fill="#111" >4.33</text>
<ellipse cx="419.90000000000003" cy="153.4" rx="1.21" ry="3.0" fill="#777" opacity="0.55" filter="url(#b2)"/>
<ellipse cx="419.6" cy="157.3" rx="2.75" ry="2.9" fill="#000" opacity="1.0" filter="url(#b1)"/>
<rect x="296.1" y="165.5" width="27.399999999999977" height="29.900000000000006" fill="#fff" stroke="#b0b0b0" stroke-width="1" />
<rect x="298.1" y="167.5" width="23.399999999999977" height="16.900000000000006" fill="none" stroke="#999" stroke-width="1" />
<text x="320.1" y="174.2" font-size="7.8" font-weight="bold" text-anchor="end" fill="#111" >1.55</text>
<path d="M303.0,195.1 L303.0,187.29999999999998 Q303.0,185.5 304.568,184.6 L304.904,181.0 Q305.8,179.5 306.696,181.0 L307.03200000000004,184.6 Q308.6,185.5 308.6,187.29999999999998 L308.6,195.1 Z" fill="#000" opacity="1.0" filter="url(#b1)"/>
<rect x="326.5" y="165.5" width="28" height="29.900000000000006" fill="#fff" stroke="#b0b0b0" stroke-width="1" />
<rect x="328.5" y="167.5" width="24" height="16.900000000000006" fill="none" stroke="#999" stroke-width="1" />
<text x="351.1" y="174.2" font-size="7.8" font-weight="bold" text-anchor="end" fill="#111" >6</text>
<ellipse cx="337.90000000000003" cy="180.1" rx="1.2" ry="4.0" fill="#777" opacity="0.55" filter="url(#b2)"/>
<path d="M337.6,182.1 Q339.70000000000005,186.0 339.70000000000005,189.25 Q339.70000000000005,193.79999999999998 337.6,195.1 Q335.5,193.79999999999998 335.5,189.25 Q335.5,186.0 337.6,182.1 Z" fill="#000" opacity="1.0" filter="url(#b1)"/>
<rect x="380.2" y="165.5" width="26.80000000000001" height="29.900000000000006" fill="#fff" stroke="#b0b0b0" stroke-width="1" />
<rect x="382.0" y="167.3" width="23.20000000000001" height="18.599999999999994" fill="none" stroke="#999" stroke-width="1" />
<text x="403.8" y="174.1" font-size="7.8" font-weight="bold" text-anchor="end" fill="#111" >1.71</text>
<ellipse cx="390.4" cy="179.8" rx="1.452" ry="2.0" fill="#777" opacity="0.55" filter="url(#b2)"/>
<path d="M390.09999999999997,179.8 Q390.89199999999994,185.89000000000001 393.4,189.95000000000002 Q393.4,194.3 390.09999999999997,194.3 Q386.79999999999995,194.3 386.79999999999995,189.95000000000002 Q389.308,185.89000000000001 390.09999999999997,179.8 Z" fill="#000" opacity="1.0" filter="url(#b1)"/>
<rect x="409.5" y="165.5" width="28" height="29.900000000000006" fill="#fff" stroke="#b0b0b0" stroke-width="1" />
<rect x="411.3" y="167.3" width="24.4" height="18.599999999999994" fill="none" stroke="#999" stroke-width="1" />
<text x="434.1" y="174.1" font-size="7.8" font-weight="bold" text-anchor="end" fill="#111" >1.32</text>
<ellipse cx="419.90000000000003" cy="187.0" rx="1.21" ry="1.5" fill="#777" opacity="0.55" filter="url(#b2)"/>
<ellipse cx="419.6" cy="189.4" rx="2.75" ry="2.9" fill="#000" opacity="1.0" filter="url(#b1)"/>
<line x1="292.5" y1="49.5" x2="292.5" y2="197" stroke="#707070" stroke-width="1.2"/>
<polygon points="292.5,43 288.9,50.5 296.1,50.5" fill="#111"/>
<line x1="292.5" y1="198.8" x2="348.5" y2="198.8" stroke="#707070" stroke-width="1.2"/>
<polygon points="355.5,198.8 347.5,195.4 347.5,202.20000000000002" fill="#111"/>
<text x="324" y="209.5" font-size="8.9" font-weight="normal" text-anchor="middle" fill="#1a1a1a" >Forward Scatter</text>
<line x1="375" y1="47.5" x2="375" y2="197" stroke="#707070" stroke-width="1.2"/>
<polygon points="375,41 371.4,48.5 378.6,48.5" fill="#111"/>
<line x1="375" y1="198.8" x2="434" y2="198.8" stroke="#707070" stroke-width="1.2"/>
<polygon points="441,198.8 433,195.4 433,202.20000000000002" fill="#111"/>
<text x="410" y="209.5" font-size="8.9" font-weight="normal" text-anchor="middle" fill="#1a1a1a" >Forward Scatter</text>
<text transform="translate(287.9,124) rotate(-90) scale(1.016,1)" font-size="8.8" font-weight="normal" text-anchor="start" fill="#1a1a1a" >IFN</text>
<text transform="translate(287.9,109.2) rotate(-90) scale(0.819,1)" font-size="8.8" font-weight="normal" text-anchor="start" fill="#1a1a1a" >-</text>
<text transform="translate(288.9,107.6) rotate(-90) scale(0.941,1)" font-size="8.5" font-weight="normal" text-anchor="start" fill="#1a1a1a" >γ</text>
<text transform="translate(372.5,128) rotate(-90) scale(1.023,1)" font-size="8.8" font-weight="normal" text-anchor="start" fill="#1a1a1a" >TNF</text>
<text transform="translate(372.5,110.2) rotate(-90) scale(0.887,1)" font-size="8.8" font-weight="normal" text-anchor="start" fill="#1a1a1a" >-</text>
<text transform="translate(373.6,107.9) rotate(-90) scale(1.153,1)" font-size="7.5" font-weight="normal" text-anchor="start" fill="#1a1a1a" >α</text>
<text x="442.5" y="53.8" font-size="8.8" font-weight="normal" text-anchor="start" fill="#1a1a1a" >Negative</text>
<text x="442.5" y="64.5" font-size="8.8" font-weight="normal" text-anchor="start" fill="#1a1a1a" >Control</text>
<text x="442.5" y="83" font-size="8.8" font-weight="normal" text-anchor="start" fill="#1a1a1a" >CMV</text>
<text x="442.5" y="91.3" font-size="8.8" font-weight="normal" text-anchor="start" fill="#1a1a1a" >peptide</text>
<text x="442.5" y="117" font-size="8.8" font-weight="normal" text-anchor="start" fill="#1a1a1a" >EBV</text>
<text x="442.5" y="125" font-size="8.8" font-weight="normal" text-anchor="start" fill="#1a1a1a" >peptide</text>
<text x="442.5" y="145.8" font-size="8.8" font-weight="normal" text-anchor="start" fill="#1a1a1a" >Flu</text>
<text x="442.5" y="153.8" font-size="8.8" font-weight="normal" text-anchor="start" fill="#1a1a1a" >peptide</text>
<text x="442.5" y="178" font-size="8.8" font-weight="normal" text-anchor="start" fill="#1a1a1a" >VV</text>
<text x="442.5" y="186" font-size="8.8" font-weight="normal" text-anchor="start" fill="#1a1a1a" >peptide</text>
<text x="279.3" y="250.8" font-size="12" font-weight="bold" text-anchor="start" fill="#1a1a1a" >C</text>
<text x="367.5" y="248.8" font-size="9.8" font-weight="bold" text-anchor="middle" fill="#1a1a1a" >Proteins</text>
<line x1="348" y1="250.3" x2="387" y2="250.3" stroke="#222" stroke-width="1"/>
<text x="309.6" y="262.5" font-size="9.8" font-weight="bold" text-anchor="middle" fill="#111" >CD4</text>
<text x="338.5" y="262.5" font-size="9.8" font-weight="bold" text-anchor="middle" fill="#111" >DP</text>
<text x="394.4" y="262.5" font-size="9.8" font-weight="bold" text-anchor="middle" fill="#111" >CD4</text>
<text x="423.8" y="262.5" font-size="9.8" font-weight="bold" text-anchor="middle" fill="#111" >DP</text>
<rect x="296.0" y="265.5" width="27.5" height="29.5" fill="#fff" stroke="#bbb" stroke-width="1" />
<rect x="298.0" y="267.5" width="23.5" height="16.5" fill="none" stroke="#999" stroke-width="1" />
<text x="319.5" y="273.3" font-size="7.8" font-weight="bold" text-anchor="end" fill="#111" >0.14</text>
<rect x="302.0" y="284.5" width="5.6" height="10" rx="1.68" fill="#000" opacity="1.0" filter="url(#b1)"/>
<rect x="326.0" y="265.5" width="27.0" height="29.5" fill="#fff" stroke="#bbb" stroke-width="1" />
<rect x="328.0" y="267.5" width="23.0" height="16.5" fill="none" stroke="#999" stroke-width="1" />
<text x="350.0" y="273.3" font-size="7.8" font-weight="bold" text-anchor="end" fill="#111" >1.38</text>
<path d="M335.5,283.7 Q337.2,287.0 337.2,289.75 Q337.2,293.59999999999997 335.5,294.7 Q333.8,293.59999999999997 333.8,289.75 Q333.8,287.0 335.5,283.7 Z" fill="#000" opacity="1.0" filter="url(#b1)"/>
<rect x="381.5" y="265.5" width="25.5" height="29.5" fill="#fff" stroke="#aaa" stroke-width="1" />
<rect x="383.5" y="267.5" width="21.5" height="17.0" fill="none" stroke="#999" stroke-width="1" />
<text x="404.0" y="273.3" font-size="7.8" font-weight="bold" text-anchor="end" fill="#111" >0.17</text>
<ellipse cx="391.6" cy="283.5" rx="1.364" ry="2.0" fill="#777" opacity="0.55" filter="url(#b2)"/>
<ellipse cx="391.3" cy="289.0" rx="3.1" ry="5.5" transform="rotate(18 391.3 289.0)" fill="#000" opacity="1.0" filter="url(#b1)"/>
<rect x="411.0" y="265.5" width="26.5" height="29.5" fill="#fff" stroke="#aaa" stroke-width="1" />
<rect x="413.0" y="267.5" width="22.5" height="17.0" fill="none" stroke="#999" stroke-width="1" />
<text x="434.5" y="273.3" font-size="7.8" font-weight="bold" text-anchor="end" fill="#111" >0.44</text>
<ellipse cx="421.0" cy="287.75" rx="2.1" ry="3.25" transform="rotate(35 421.0 287.75)" fill="#000" opacity="1.0" filter="url(#b1)"/>
<rect x="296.0" y="297.0" width="27.5" height="29.5" fill="#fff" stroke="#bbb" stroke-width="1" />
<rect x="298.0" y="299.0" width="23.5" height="16.5" fill="none" stroke="#999" stroke-width="1" />
<text x="319.5" y="304.8" font-size="7.8" font-weight="bold" text-anchor="end" fill="#111" >0.15</text>
<rect x="302.0" y="316" width="5.6" height="10" rx="1.68" fill="#000" opacity="1.0" filter="url(#b1)"/>
<rect x="326.0" y="297.0" width="27.0" height="29.5" fill="#fff" stroke="#bbb" stroke-width="1" />
<rect x="328.0" y="299.0" width="23.0" height="16.5" fill="none" stroke="#999" stroke-width="1" />
<text x="350.0" y="304.8" font-size="7.8" font-weight="bold" text-anchor="end" fill="#111" >2.13</text>
<path d="M335.5,315.2 Q337.2,318.5 337.2,321.25 Q337.2,325.09999999999997 335.5,326.2 Q333.8,325.09999999999997 333.8,321.25 Q333.8,318.5 335.5,315.2 Z" fill="#000" opacity="1.0" filter="url(#b1)"/>
<rect x="381.5" y="297.0" width="25.5" height="29.5" fill="#fff" stroke="#aaa" stroke-width="1" />
<rect x="383.5" y="299.0" width="21.5" height="17.0" fill="none" stroke="#999" stroke-width="1" />
<text x="404.0" y="304.8" font-size="7.8" font-weight="bold" text-anchor="end" fill="#111" >0.3</text>
<ellipse cx="391.6" cy="315.0" rx="1.364" ry="2.0" fill="#777" opacity="0.55" filter="url(#b2)"/>
<ellipse cx="391.3" cy="320.5" rx="3.1" ry="5.5" transform="rotate(18 391.3 320.5)" fill="#000" opacity="1.0" filter="url(#b1)"/>
<rect x="411.0" y="297.0" width="26.5" height="29.5" fill="#fff" stroke="#aaa" stroke-width="1" />
<rect x="413.0" y="299.0" width="22.5" height="17.0" fill="none" stroke="#999" stroke-width="1" />
<text x="434.5" y="304.8" font-size="7.8" font-weight="bold" text-anchor="end" fill="#111" >0.71</text>
<ellipse cx="421.0" cy="319.25" rx="2.1" ry="3.25" transform="rotate(35 421.0 319.25)" fill="#000" opacity="1.0" filter="url(#b1)"/>
<line x1="291.8" y1="272.0" x2="291.8" y2="326" stroke="#707070" stroke-width="1.2"/>
<polygon points="291.8,265.5 288.2,273.0 295.40000000000003,273.0" fill="#111"/>
<line x1="292" y1="330.5" x2="347" y2="330.5" stroke="#707070" stroke-width="1.2"/>
<polygon points="354,330.5 346,327.1 346,333.9" fill="#111"/>
<text x="323.5" y="340" font-size="8.9" font-weight="normal" text-anchor="middle" fill="#1a1a1a" >Forward Scatter</text>
<line x1="375.8" y1="270.3" x2="375.8" y2="326" stroke="#707070" stroke-width="1.2"/>
<polygon points="375.8,263.8 372.2,271.3 379.40000000000003,271.3" fill="#111"/>
<line x1="376" y1="330.5" x2="434" y2="330.5" stroke="#707070" stroke-width="1.2"/>
<polygon points="441,330.5 433,327.1 433,333.9" fill="#111"/>
<text x="410" y="340" font-size="8.9" font-weight="normal" text-anchor="middle" fill="#1a1a1a" >Forward Scatter</text>
<text transform="translate(286.4,306.8) rotate(-90) scale(0.904,1)" font-size="9.2" font-weight="normal" text-anchor="start" fill="#1a1a1a" >IFN</text>
<text transform="translate(286.4,293) rotate(-90) scale(0.816,1)" font-size="9.2" font-weight="normal" text-anchor="start" fill="#1a1a1a" >-</text>
<text transform="translate(287.2,291) rotate(-90) scale(1.224,1)" font-size="8.5" font-weight="normal" text-anchor="start" fill="#1a1a1a" >γ</text>
<text transform="translate(373.75,308.6) rotate(-90) scale(0.783,1)" font-size="9.2" font-weight="normal" text-anchor="start" fill="#1a1a1a" >TNF</text>
<text transform="translate(373.75,294.2) rotate(-90) scale(0.849,1)" font-size="9.2" font-weight="normal" text-anchor="start" fill="#1a1a1a" >-</text>
<text transform="translate(375.05,291.9) rotate(-90) scale(1.302,1)" font-size="8.5" font-weight="normal" text-anchor="start" fill="#1a1a1a" >α</text>
<text x="442.5" y="277.5" font-size="8.8" font-weight="normal" text-anchor="start" fill="#1a1a1a" >Negative</text>
<text x="442.5" y="285.8" font-size="8.8" font-weight="normal" text-anchor="start" fill="#1a1a1a" >Control</text>
<text x="442.5" y="311.3" font-size="8.8" font-weight="normal" text-anchor="start" fill="#1a1a1a" >Tetanus</text>
<text x="442.5" y="320" font-size="8.8" font-weight="normal" text-anchor="start" fill="#1a1a1a" >toxoid</text>
<text x="1" y="367.3" font-size="11.5" font-weight="bold" text-anchor="start" fill="#1a1a1a" >D</text>
<line x1="21.3" y1="372.3" x2="165.5" y2="372.3" stroke="#999" stroke-width="1"/>
<line x1="165.5" y1="372.3" x2="165.5" y2="439.2" stroke="#999" stroke-width="1"/>
<rect x="24.5" y="436.52" width="5.2" height="2.68" fill="#fff" stroke="#222" stroke-width="0.7" />
<rect x="30.0" y="435.86" width="5.2" height="3.34" fill="#000" stroke="#222" stroke-width="0.7" />
<rect x="35.5" y="377.65" width="5.2" height="61.55" fill="#a6a6a6" stroke="#222" stroke-width="0.7" />
<text x="32.45" y="446.2" font-size="6" font-weight="normal" text-anchor="middle" fill="#222" class="s">HD 11</text>
<rect x="48.3" y="436.52" width="5.2" height="2.68" fill="#fff" stroke="#222" stroke-width="0.7" />
<rect x="53.8" y="437.36" width="5.2" height="1.84" fill="#000" stroke="#222" stroke-width="0.7" />
<rect x="59.3" y="409.1" width="5.2" height="30.1" fill="#a6a6a6" stroke="#222" stroke-width="0.7" />
<text x="56.25" y="446.2" font-size="6" font-weight="normal" text-anchor="middle" fill="#222" class="s">HD 12</text>
<rect x="72.3" y="436.86" width="5.2" height="2.34" fill="#fff" stroke="#222" stroke-width="0.7" />
<rect x="77.8" y="434.52" width="5.2" height="4.68" fill="#000" stroke="#222" stroke-width="0.7" />
<rect x="83.3" y="431.51" width="5.2" height="7.69" fill="#a6a6a6" stroke="#222" stroke-width="0.7" />
<text x="80.25" y="446.2" font-size="6" font-weight="normal" text-anchor="middle" fill="#222" class="s">HD 13</text>
<rect x="96.5" y="438.2" width="5.2" height="1.0" fill="#fff" stroke="#222" stroke-width="0.7" />
<rect x="102.0" y="427.49" width="5.2" height="11.71" fill="#000" stroke="#222" stroke-width="0.7" />
<rect x="107.5" y="408.09" width="5.2" height="31.11" fill="#a6a6a6" stroke="#222" stroke-width="0.7" />
<text x="104.45" y="446.2" font-size="6" font-weight="normal" text-anchor="middle" fill="#222" class="s">HD 14</text>
<rect x="120.8" y="438.36" width="5.2" height="0.84" fill="#fff" stroke="#222" stroke-width="0.7" />
<rect x="126.3" y="438.03" width="5.2" height="1.17" fill="#000" stroke="#222" stroke-width="0.7" />
<rect x="131.8" y="405.08" width="5.2" height="34.12" fill="#a6a6a6" stroke="#222" stroke-width="0.7" />
<text x="128.75" y="446.2" font-size="6" font-weight="normal" text-anchor="middle" fill="#222" class="s">HD 15</text>
<rect x="144.8" y="437.53" width="5.2" height="1.67" fill="#fff" stroke="#222" stroke-width="0.7" />
<rect x="150.3" y="435.52" width="5.2" height="3.68" fill="#000" stroke="#222" stroke-width="0.7" />
<rect x="155.8" y="424.82" width="5.2" height="14.38" fill="#a6a6a6" stroke="#222" stroke-width="0.7" />
<text x="152.75" y="446.2" font-size="6" font-weight="normal" text-anchor="middle" fill="#222" class="s">HD 16</text>
<line x1="21.3" y1="371.8" x2="21.3" y2="439.7" stroke="#333" stroke-width="0.9"/>
<line x1="20.8" y1="439.2" x2="165.5" y2="439.2" stroke="#333" stroke-width="0.9"/>
<line x1="19.8" y1="439.2" x2="21.3" y2="439.2" stroke="#222" stroke-width="0.7"/>
<text x="19.1" y="441.2" font-size="5.8" font-weight="normal" text-anchor="end" fill="#4a4a4a" stroke="none">0</text>
<line x1="19.8" y1="422.475" x2="21.3" y2="422.475" stroke="#222" stroke-width="0.7"/>
<text x="19.1" y="424.475" font-size="5.8" font-weight="normal" text-anchor="end" fill="#4a4a4a" stroke="none">5</text>
<line x1="19.8" y1="405.75" x2="21.3" y2="405.75" stroke="#222" stroke-width="0.7"/>
<text x="19.1" y="407.75" font-size="5.8" font-weight="normal" text-anchor="end" fill="#4a4a4a" stroke="none">10</text>
<line x1="19.8" y1="389.025" x2="21.3" y2="389.025" stroke="#222" stroke-width="0.7"/>
<text x="19.1" y="391.025" font-size="5.8" font-weight="normal" text-anchor="end" fill="#4a4a4a" stroke="none">15</text>
<line x1="19.8" y1="372.3" x2="21.3" y2="372.3" stroke="#222" stroke-width="0.7"/>
<text x="19.1" y="374.3" font-size="5.8" font-weight="normal" text-anchor="end" fill="#4a4a4a" stroke="none">20</text>
<rect x="150" y="374.8" width="3.2" height="3.2" fill="#fff" stroke="#222" stroke-width="0.7" />
<text x="155.5" y="377.90000000000003" font-size="4.1" font-weight="normal" text-anchor="start" fill="#444" class="s">CD4</text>
<rect x="150" y="380.6" width="3.2" height="3.2" fill="#000" stroke="#222" stroke-width="0.7" />
<text x="155.5" y="383.70000000000005" font-size="4.1" font-weight="normal" text-anchor="start" fill="#444" class="s">CD8</text>
<rect x="150" y="386.40000000000003" width="3.2" height="3.2" fill="#a6a6a6" stroke="#222" stroke-width="0.7" />
<text x="155.5" y="389.50000000000006" font-size="4.1" font-weight="normal" text-anchor="start" fill="#444" class="s">DP</text>
<text transform="translate(5.0,406) rotate(-90) scale(1,1)" font-size="4.9" font-weight="normal" text-anchor="middle" fill="#333" stroke="none">% Ag-specific IFN- γ<tspan baseline-shift="super" font-size="3.5">+</tspan> cells in</text>
<text transform="translate(11.2,406) rotate(-90) scale(1,1)" font-size="4.9" font-weight="normal" text-anchor="middle" fill="#333" stroke="none">CD4, CD8 and DP populations</text>
<line x1="198" y1="373" x2="342.5" y2="373" stroke="#999" stroke-width="1"/>
<line x1="342.5" y1="373" x2="342.5" y2="439.2" stroke="#999" stroke-width="1"/>
<rect x="199.8" y="437.31" width="4.45" height="1.89" fill="#fff" stroke="#222" stroke-width="0.7" />
<rect x="204.55" y="438.25" width="4.45" height="0.95" fill="#000" stroke="#222" stroke-width="0.7" />
<rect x="209.3" y="421.7" width="4.45" height="17.5" fill="#a6a6a6" stroke="#222" stroke-width="0.7" />
<text x="206.625" y="446.2" font-size="6" font-weight="normal" text-anchor="middle" fill="#222" class="s">HD 11</text>
<rect x="220.60000000000002" y="434.47" width="4.45" height="4.73" fill="#fff" stroke="#222" stroke-width="0.7" />
<rect x="225.35000000000002" y="438.25" width="4.45" height="0.95" fill="#000" stroke="#222" stroke-width="0.7" />
<rect x="230.10000000000002" y="438.4" width="4.45" height="0.8" fill="#a6a6a6" stroke="#222" stroke-width="0.7" />
<text x="227.425" y="446.2" font-size="6" font-weight="normal" text-anchor="middle" fill="#222" class="s">HD 12</text>
<rect x="241.10000000000002" y="432.39" width="4.45" height="6.81" fill="#fff" stroke="#222" stroke-width="0.7" />
<rect x="245.85000000000002" y="431.16" width="4.45" height="8.04" fill="#000" stroke="#222" stroke-width="0.7" />
<rect x="250.60000000000002" y="425.01" width="4.45" height="14.19" fill="#a6a6a6" stroke="#222" stroke-width="0.7" />
<text x="247.925" y="446.2" font-size="6" font-weight="normal" text-anchor="middle" fill="#222" class="s">HD 13</text>
<rect x="261.6" y="438.4" width="4.45" height="0.8" fill="#fff" stroke="#222" stroke-width="0.7" />
<rect x="266.35" y="422.37" width="4.45" height="16.83" fill="#000" stroke="#222" stroke-width="0.7" />
<rect x="271.1" y="384.35" width="4.45" height="54.85" fill="#a6a6a6" stroke="#222" stroke-width="0.7" />
<text x="268.425" y="446.2" font-size="6" font-weight="normal" text-anchor="middle" fill="#222" class="s">HD 14</text>
<rect x="282.3" y="435.7" width="4.45" height="3.5" fill="#fff" stroke="#222" stroke-width="0.7" />
<rect x="287.05" y="430.4" width="4.45" height="8.8" fill="#000" stroke="#222" stroke-width="0.7" />
<rect x="291.8" y="411.11" width="4.45" height="28.09" fill="#a6a6a6" stroke="#222" stroke-width="0.7" />
<text x="289.125" y="446.2" font-size="6" font-weight="normal" text-anchor="middle" fill="#222" class="s">HD 17</text>
<rect x="302.8" y="437.5" width="4.45" height="1.7" fill="#fff" stroke="#222" stroke-width="0.7" />
<rect x="307.55" y="438.25" width="4.45" height="0.95" fill="#000" stroke="#222" stroke-width="0.7" />
<rect x="312.3" y="423.6" width="4.45" height="15.6" fill="#a6a6a6" stroke="#222" stroke-width="0.7" />
<text x="309.625" y="446.2" font-size="6" font-weight="normal" text-anchor="middle" fill="#222" class="s">HD 18</text>
<rect x="323.5" y="438.4" width="4.45" height="0.8" fill="#fff" stroke="#222" stroke-width="0.7" />
<rect x="328.25" y="438.25" width="4.45" height="0.95" fill="#000" stroke="#222" stroke-width="0.7" />
<rect x="333.0" y="406.1" width="4.45" height="33.1" fill="#a6a6a6" stroke="#222" stroke-width="0.7" />
<text x="330.325" y="446.2" font-size="6" font-weight="normal" text-anchor="middle" fill="#222" class="s">HD 19</text>
<line x1="198" y1="372.5" x2="198" y2="439.7" stroke="#333" stroke-width="0.9"/>
<line x1="197.5" y1="439.2" x2="342.5" y2="439.2" stroke="#333" stroke-width="0.9"/>
<line x1="196.5" y1="439.2" x2="198" y2="439.2" stroke="#222" stroke-width="0.7"/>
<text x="195.8" y="441.2" font-size="5.8" font-weight="normal" text-anchor="end" fill="#4a4a4a" stroke="none">0</text>
<line x1="196.5" y1="429.74285714285713" x2="198" y2="429.74285714285713" stroke="#222" stroke-width="0.7"/>
<text x="195.8" y="431.74285714285713" font-size="5.8" font-weight="normal" text-anchor="end" fill="#4a4a4a" stroke="none">1</text>
<line x1="196.5" y1="420.2857142857143" x2="198" y2="420.2857142857143" stroke="#222" stroke-width="0.7"/>
<text x="195.8" y="422.2857142857143" font-size="5.8" font-weight="normal" text-anchor="end" fill="#4a4a4a" stroke="none">2</text>
<line x1="196.5" y1="410.8285714285714" x2="198" y2="410.8285714285714" stroke="#222" stroke-width="0.7"/>
<text x="195.8" y="412.8285714285714" font-size="5.8" font-weight="normal" text-anchor="end" fill="#4a4a4a" stroke="none">3</text>
<line x1="196.5" y1="401.37142857142857" x2="198" y2="401.37142857142857" stroke="#222" stroke-width="0.7"/>
<text x="195.8" y="403.37142857142857" font-size="5.8" font-weight="normal" text-anchor="end" fill="#4a4a4a" stroke="none">4</text>
<line x1="196.5" y1="391.9142857142857" x2="198" y2="391.9142857142857" stroke="#222" stroke-width="0.7"/>
<text x="195.8" y="393.9142857142857" font-size="5.8" font-weight="normal" text-anchor="end" fill="#4a4a4a" stroke="none">5</text>
<line x1="196.5" y1="382.45714285714286" x2="198" y2="382.45714285714286" stroke="#222" stroke-width="0.7"/>
<text x="195.8" y="384.45714285714286" font-size="5.8" font-weight="normal" text-anchor="end" fill="#4a4a4a" stroke="none">6</text>
<line x1="196.5" y1="373.0" x2="198" y2="373.0" stroke="#222" stroke-width="0.7"/>
<text x="195.8" y="375.0" font-size="5.8" font-weight="normal" text-anchor="end" fill="#4a4a4a" stroke="none">7</text>
<rect x="326.3" y="376.0" width="3.2" height="3.2" fill="#fff" stroke="#222" stroke-width="0.7" />
<text x="332" y="379.1" font-size="4.1" font-weight="normal" text-anchor="start" fill="#444" class="s">CD4</text>
<rect x="326.3" y="381.8" width="3.2" height="3.2" fill="#000" stroke="#222" stroke-width="0.7" />
<text x="332" y="384.90000000000003" font-size="4.1" font-weight="normal" text-anchor="start" fill="#444" class="s">CD8</text>
<rect x="326.3" y="387.6" width="3.2" height="3.2" fill="#a6a6a6" stroke="#222" stroke-width="0.7" />
<text x="332" y="390.70000000000005" font-size="4.1" font-weight="normal" text-anchor="start" fill="#444" class="s">DP</text>
<text transform="translate(181.5,406) rotate(-90) scale(1,1)" font-size="4.9" font-weight="normal" text-anchor="middle" fill="#333" stroke="none">% Ag-specificTNF-–α<tspan baseline-shift="super" font-size="3.5">+</tspan> cells in</text>
<text transform="translate(186.9,406) rotate(-90) scale(1,1)" font-size="4.9" font-weight="normal" text-anchor="middle" fill="#333" stroke="none">CD4, CD8 and DP populations</text>
<text x="358.5" y="367.3" font-size="11.5" font-weight="bold" text-anchor="start" fill="#1a1a1a" >E</text>
<line x1="389.0" y1="426.83849999999995" x2="389.0" y2="417.3325" stroke="#888" stroke-width="0.9"/>
<line x1="387.0" y1="417.3325" x2="391.0" y2="417.3325" stroke="#888" stroke-width="0.9"/>
<rect x="383.4" y="426.84" width="11.2" height="12.56" fill="#fff" stroke="#222" stroke-width="0.8" />
<text x="389.0" y="446.4" font-size="6" font-weight="normal" text-anchor="middle" fill="#222" class="s">CD4</text>
<line x1="407.1" y1="401.0365" x2="407.1" y2="388.1355" stroke="#888" stroke-width="0.9"/>
<line x1="405.1" y1="388.1355" x2="409.1" y2="388.1355" stroke="#888" stroke-width="0.9"/>
<rect x="401.59999999999997" y="401.04" width="11.00000000000001" height="38.36" fill="#000" stroke="#222" stroke-width="0.8" />
<text x="407.1" y="446.4" font-size="6" font-weight="normal" text-anchor="middle" fill="#222" class="s">CD8</text>
<line x1="425.4" y1="393.907" x2="425.4" y2="385.08" stroke="#888" stroke-width="0.9"/>
<line x1="423.4" y1="385.08" x2="427.4" y2="385.08" stroke="#888" stroke-width="0.9"/>
<rect x="419.9" y="393.91" width="11.00000000000001" height="45.49" fill="#a6a6a6" stroke="#222" stroke-width="0.8" />
<text x="425.4" y="446.4" font-size="6" font-weight="normal" text-anchor="middle" fill="#222" class="s">DP</text>
<line x1="375" y1="371.0" x2="375" y2="439.9" stroke="#333" stroke-width="0.9"/>
<line x1="374.5" y1="439.4" x2="432.5" y2="439.4" stroke="#333" stroke-width="0.9"/>
<line x1="373.5" y1="439.4" x2="375" y2="439.4" stroke="#222" stroke-width="0.7"/>
<text x="372.5" y="441.4" font-size="5.8" font-weight="normal" text-anchor="end" fill="#4a4a4a" stroke="none">0</text>
<line x1="373.5" y1="425.82" x2="375" y2="425.82" stroke="#222" stroke-width="0.7"/>
<text x="372.5" y="427.82" font-size="5.8" font-weight="normal" text-anchor="end" fill="#4a4a4a" stroke="none">20</text>
<line x1="373.5" y1="412.24" x2="375" y2="412.24" stroke="#222" stroke-width="0.7"/>
<text x="372.5" y="414.24" font-size="5.8" font-weight="normal" text-anchor="end" fill="#4a4a4a" stroke="none">40</text>
<line x1="373.5" y1="398.65999999999997" x2="375" y2="398.65999999999997" stroke="#222" stroke-width="0.7"/>
<text x="372.5" y="400.65999999999997" font-size="5.8" font-weight="normal" text-anchor="end" fill="#4a4a4a" stroke="none">60</text>
<line x1="373.5" y1="385.08" x2="375" y2="385.08" stroke="#222" stroke-width="0.7"/>
<text x="372.5" y="387.08" font-size="5.8" font-weight="normal" text-anchor="end" fill="#4a4a4a" stroke="none">80</text>
<line x1="373.5" y1="371.5" x2="375" y2="371.5" stroke="#222" stroke-width="0.7"/>
<text x="372.5" y="373.5" font-size="5.8" font-weight="normal" text-anchor="end" fill="#4a4a4a" stroke="none">100</text>
<text transform="translate(363.3,406.5) rotate(-90) scale(1,1)" font-size="6.2" font-weight="normal" text-anchor="middle" fill="#3a3a3a" stroke="none">% Granzyme A<tspan baseline-shift="super" font-size="4">+</tspan> cells</text>
<line x1="476.1" y1="435.7095" x2="476.1" y2="433.69649999999996" stroke="#888" stroke-width="0.9"/>
<line x1="474.1" y1="433.69649999999996" x2="478.1" y2="433.69649999999996" stroke="#888" stroke-width="0.9"/>
<rect x="470.9" y="435.71" width="10.399999999999988" height="3.69" fill="#fff" stroke="#222" stroke-width="0.8" />
<text x="476.1" y="446.4" font-size="6" font-weight="normal" text-anchor="middle" fill="#222" class="s">CD4</text>
<line x1="492.5" y1="409.205" x2="492.5" y2="383.707" stroke="#888" stroke-width="0.9"/>
<line x1="490.5" y1="383.707" x2="494.5" y2="383.707" stroke="#888" stroke-width="0.9"/>
<rect x="487.4" y="409.2" width="10.2" height="30.19" fill="#000" stroke="#222" stroke-width="0.8" />
<text x="492.5" y="446.4" font-size="6" font-weight="normal" text-anchor="middle" fill="#222" class="s">CD8</text>
<line x1="510.0" y1="404.508" x2="510.0" y2="383.707" stroke="#888" stroke-width="0.9"/>
<line x1="508.0" y1="383.707" x2="512.0" y2="383.707" stroke="#888" stroke-width="0.9"/>
<rect x="504.9" y="404.51" width="10.2" height="34.89" fill="#a6a6a6" stroke="#222" stroke-width="0.8" />
<text x="510.0" y="446.4" font-size="6" font-weight="normal" text-anchor="middle" fill="#222" class="s">DP</text>
<line x1="462.5" y1="371.8" x2="462.5" y2="439.9" stroke="#333" stroke-width="0.9"/>
<line x1="462.0" y1="439.4" x2="517" y2="439.4" stroke="#333" stroke-width="0.9"/>
<line x1="461.0" y1="439.4" x2="462.5" y2="439.4" stroke="#222" stroke-width="0.7"/>
<text x="460.0" y="441.4" font-size="5.8" font-weight="normal" text-anchor="end" fill="#4a4a4a" stroke="none">0</text>
<line x1="461.0" y1="422.625" x2="462.5" y2="422.625" stroke="#222" stroke-width="0.7"/>
<text x="460.0" y="424.625" font-size="5.8" font-weight="normal" text-anchor="end" fill="#4a4a4a" stroke="none">5</text>
<line x1="461.0" y1="405.85" x2="462.5" y2="405.85" stroke="#222" stroke-width="0.7"/>
<text x="460.0" y="407.85" font-size="5.8" font-weight="normal" text-anchor="end" fill="#4a4a4a" stroke="none">10</text>
<line x1="461.0" y1="389.075" x2="462.5" y2="389.075" stroke="#222" stroke-width="0.7"/>
<text x="460.0" y="391.075" font-size="5.8" font-weight="normal" text-anchor="end" fill="#4a4a4a" stroke="none">15</text>
<line x1="461.0" y1="372.3" x2="462.5" y2="372.3" stroke="#222" stroke-width="0.7"/>
<text x="460.0" y="374.3" font-size="5.8" font-weight="normal" text-anchor="end" fill="#4a4a4a" stroke="none">20</text>
<text transform="translate(449.2,407.5) rotate(-90) scale(1,1)" font-size="6.2" font-weight="normal" text-anchor="middle" fill="#3a3a3a" stroke="none">% Perforin<tspan baseline-shift="super" font-size="4">+</tspan> cells</text>
</svg>
</body></html>
